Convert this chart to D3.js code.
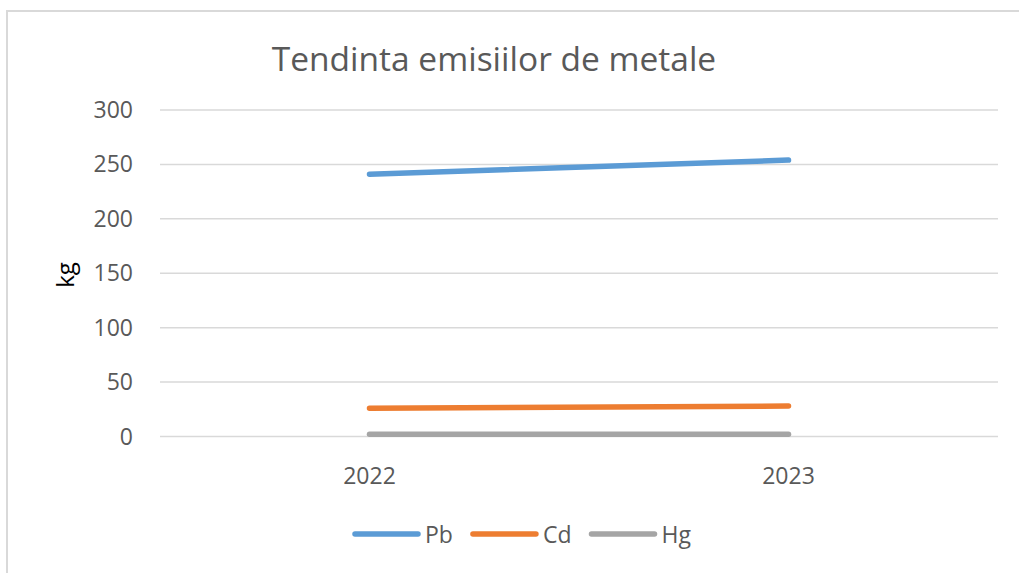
<!DOCTYPE html>
<html>
<head>
<meta charset="utf-8">
<script src="https://cdn.jsdelivr.net/npm/d3@7"></script>
<style>
  body { margin: 0; background: #fff; }
  text { font-family: "Open Sans", sans-serif; }
</style>
</head>
<body>
<div id="chart"></div>
<script>
var years = ["2022", "2023"];
var seriesNames = ["Pb", "Cd", "Hg"];
var pbValues = [241, 254];
var cdValues = [26, 28];
var hgValues = [2, 2];
var yTicks = [0, 50, 100, 150, 200, 250, 300];
var colors = ["#5b9bd5", "#ed7d31", "#a5a5a5"];

var series = [pbValues, cdValues, hgValues].map(function(v, i) {
  return {name: seriesNames[i], color: colors[i], values: v};
});

var W = 1019, H = 573;

var svg = d3.select("#chart")
  .append("svg")
    .attr("width", W)
    .attr("height", H);

// chart frame
svg.append("rect")
  .attr("x", 7).attr("y", 11)
  .attr("width", W + 10).attr("height", H + 10)
  .attr("fill", "#fff")
  .attr("stroke", "#d9d9d9")
  .attr("stroke-width", 2);

var x = d3.scaleBand()
  .domain(years)
  .range([160, 998]);

var y = d3.scaleLinear()
  .domain([0, 300])
  .range([436.5, 110]);

// gridlines
svg.append("g")
  .selectAll("line")
  .data(yTicks)
  .enter()
  .append("line")
    .attr("x1", 160).attr("x2", 998)
    .attr("y1", d => y(d)).attr("y2", d => y(d))
    .attr("stroke", "#d9d9d9")
    .attr("stroke-width", 1.5);

// y tick labels
svg.append("g")
  .selectAll("text")
  .data(yTicks)
  .enter()
  .append("text")
    .attr("x", 133)
    .attr("y", d => y(d))
    .attr("dy", "0.35em")
    .attr("text-anchor", "end")
    .attr("font-size", 23)
    .attr("fill", "#595959")
    .text(d => d);

// x labels
svg.append("g")
  .selectAll("text")
  .data(years)
  .enter()
  .append("text")
    .attr("x", d => x(d) + x.bandwidth() / 2)
    .attr("y", 484)
    .attr("text-anchor", "middle")
    .attr("font-size", 23)
    .attr("fill", "#595959")
    .text(d => d);

// axis title
svg.append("text")
  .attr("transform", "translate(74,275) rotate(-90)")
  .attr("text-anchor", "middle")
  .attr("font-size", 24)
  .attr("fill", "#000")
  .text("kg");

// chart title
svg.append("text")
  .attr("x", 494)
  .attr("y", 71)
  .attr("text-anchor", "middle")
  .attr("font-size", 33.5)
  .attr("fill", "#595959")
  .text("Tendinta emisiilor de metale");

var line = d3.line()
  .x((d, i) => x(years[i]) + x.bandwidth() / 2)
  .y(d => y(d));

svg.append("g")
  .selectAll("path")
  .data(series.slice().reverse())
  .enter()
  .append("path")
    .attr("d", d => line(d.values))
    .attr("fill", "none")
    .attr("stroke", d => d.color)
    .attr("stroke-width", 5.5)
    .attr("stroke-linecap", "round");

// legend
var legend = svg.append("g");
var lx = 355;
series.forEach(function(s) {
  legend.append("line")
    .attr("x1", lx).attr("x2", lx + 63)
    .attr("y1", 534).attr("y2", 534)
    .attr("stroke", s.color)
    .attr("stroke-width", 5.5)
    .attr("stroke-linecap", "round");
  var t = legend.append("text")
    .attr("x", lx + 70)
    .attr("y", 543)
    .attr("font-size", 23)
    .attr("fill", "#595959")
    .text(s.name);
  lx += 70 + t.node().getComputedTextLength() + 20;
});
</script>
</body>
</html>
